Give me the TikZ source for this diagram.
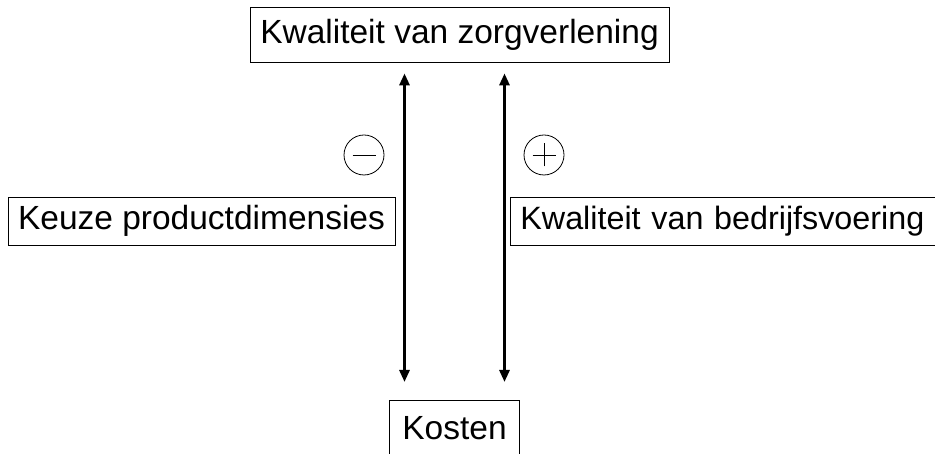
\documentclass[tikz,border=0pt]{standalone}
\usepackage{fontspec}
\setmainfont{Liberation Sans}
\usetikzlibrary{arrows.meta}
\tikzset{
    blok/.style={draw=black, line width=0.8pt, inner sep=0pt, minimum height=48pt,
        font=\fontsize{33.5}{38}\selectfont},
    pijl/.style={draw=black, line width=2.8pt,
        {Triangle[length=12pt,width=10pt]}-{Triangle[length=12pt,width=10pt]}},
    teken/.style={draw=black, line width=0.8pt, circle, minimum size=40pt, inner sep=0pt},
    streep/.style={draw=black, line width=0.8pt}
}

\begin{document}
\begin{tikzpicture}[x=1pt,y=1pt]
\useasboundingbox (0,0) rectangle (935,454);
% boxes
\node[blok, minimum width=419pt, minimum height=55pt] (zorg) at (459.5,419.5) {Kwaliteit van zorgverlening};
\node[blok, minimum width=387pt] (keuze) at (201.5,233) {Keuze productdimensies};
\node[blok, anchor=west, inner xsep=10pt, text width=440pt, align=left,
    font=\fontsize{32.3}{38}\selectfont] (bedrijf) at (510,233) {Kwaliteit van bedrijfsvoering};
\node[blok, minimum width=130pt, minimum height=55pt, anchor=north] (kosten) at (454.5,54) {Kosten};

% arrows
\path (zorg.south -| kosten.north) ++(-50,-11) coordinate (lboven);
\path (kosten.north) ++(-50,18) coordinate (londer);
\path (zorg.south -| kosten.north) ++(50,-11) coordinate (rboven);
\path (kosten.north) ++(50,18) coordinate (ronder);
\draw[pijl] (lboven) -- (londer);
\draw[pijl] (rboven) -- (ronder);

% signs
\node[teken] (min) at (364,299) {};
\draw[streep] ([xshift=-11.5pt]min.center) -- ([xshift=11.5pt]min.center);
\node[teken] (plus) at (544,299) {};
\draw[streep] ([xshift=-11.5pt]plus.center) -- ([xshift=11.5pt]plus.center);
\draw[streep] ([yshift=-11.5pt]plus.center) -- ([yshift=11.5pt]plus.center);
\end{tikzpicture}
\end{document}
